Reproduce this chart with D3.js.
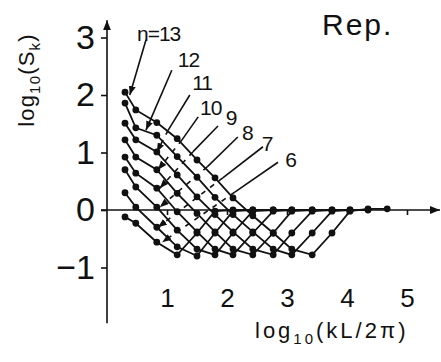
<!DOCTYPE html>
<html>
<head>
<meta charset="utf-8">
<script src="https://cdn.jsdelivr.net/npm/d3@7/dist/d3.min.js"></script>
<style>
  body { margin: 0; background: #fff; }
  text { font-family: "Liberation Sans", Arial, sans-serif; fill: #111; }
</style>
</head>
<body>
<div id="container"></div>
<script>
// k positions, log10(kL/2pi)
const kPos = [0.30, 0.48, 0.83, 1.17, 1.50, 1.80, 2.10, 2.43, 2.77, 3.08, 3.42, 3.75, 4.05, 4.35, 4.67];

// log10(S_k) for each system size n
const s6  = [-0.12, -0.23, -0.56, -0.78, -0.40, -0.02, 0.00, 0.00];
const s7  = [0.30, 0.05, -0.30, -0.64, -0.80, -0.40, -0.02, 0.00, 0.00];
const s8  = [0.70, 0.40, 0.05, -0.35, -0.68, -0.78, -0.40, -0.02, 0.00, 0.00];
const s9  = [0.92, 0.64, 0.38, -0.03, -0.38, -0.68, -0.78, -0.40, -0.02, 0.00, 0.00];
const s10 = [1.22, 0.92, 0.70, 0.29, -0.06, -0.38, -0.68, -0.78, -0.40, -0.02, 0.00, 0.00];
const s11 = [1.51, 1.22, 1.01, 0.61, 0.23, -0.08, -0.38, -0.68, -0.78, -0.40, -0.02, 0.00, 0.00];
const s12 = [1.86, 1.43, 1.30, 0.93, 0.57, 0.22, -0.08, -0.38, -0.68, -0.78, -0.40, -0.02, 0.00, 0.00];
const s13 = [2.05, 1.74, 1.52, 1.24, 0.87, 0.56, 0.21, -0.10, -0.40, -0.68, -0.78, -0.40, -0.02, 0.02, 0.02];
const seriesValues = [s6, s7, s8, s9, s10, s11, s12, s13];

const xTicks = [1, 2, 3, 4, 5];
const yTicks = [-1, 0, 1, 2, 3];

// curve labels (data units): text anchor, leader start, end of solid part, arrow tip
const labelText = ['n=13', '12', '11', '10', '9', '8', '7', '6'];
const labelAt    = [[0.50, 2.94], [1.18, 2.49], [1.42, 2.09], [1.55, 1.65], [1.98, 1.47], [2.25, 1.22], [2.58, 1.03], [2.97, 0.75]];
const leadStart  = [[0.65, 2.96], [1.08, 2.43], [1.38, 2.00], [1.52, 1.62], [1.85, 1.46], [2.18, 1.27], [2.60, 1.10], [2.85, 0.83]];
const leadBend   = [[0.38, 2.00], [0.65, 1.39], [1.02, 1.39], [1.25, 1.22], [1.43, 1.01], [1.67, 0.75], [1.93, 0.56], [2.13, 0.31]];
const leadTip    = [[0.38, 2.00], [0.65, 1.39], [0.83, 1.01], [0.85, 0.70], [0.88, 0.38], [0.88, 0.05], [0.85, -0.30], [0.92, -0.56]];

const W = 441, H = 362;
const svg = d3.select('#container').append('svg').attr('width', W).attr('height', H);

const x = d3.scaleLinear().domain([0, 5]).range([107, 407]);
const y = d3.scaleLinear().domain([-1, 3]).range([267.5, 37.5]);

const defs = svg.append('defs');
defs.append('marker').attr('id', 'axArrow')
    .attr('viewBox', '0 0 10 8').attr('refX', 10).attr('refY', 4)
    .attr('markerWidth', 10).attr('markerHeight', 8)
    .attr('markerUnits', 'userSpaceOnUse').attr('orient', 'auto')
    .append('path').attr('d', 'M0,0L10,4L0,8Z').attr('fill', '#111');
defs.append('marker').attr('id', 'tipArrow')
    .attr('viewBox', '0 0 9 7').attr('refX', 9).attr('refY', 3.5)
    .attr('markerWidth', 9).attr('markerHeight', 7)
    .attr('markerUnits', 'userSpaceOnUse').attr('orient', 'auto')
    .append('path').attr('d', 'M0,0L9,3.5L0,7Z').attr('fill', '#111');

// axis lines with arrows
svg.append('line')
    .attr('x1', x(0)).attr('x2', x(0)).attr('y1', y(-1.97)).attr('y2', y(3.3))
    .attr('stroke', '#111').attr('stroke-width', 1.6).attr('marker-end', 'url(#axArrow)');
svg.append('line')
    .attr('x1', x(-0.1)).attr('x2', x(5.55)).attr('y1', y(0)).attr('y2', y(0))
    .attr('stroke', '#111').attr('stroke-width', 1.6).attr('marker-end', 'url(#axArrow)');

svg.append('g')
    .attr('transform', `translate(${x(0)},0)`)
    .call(d3.axisLeft(y).tickValues(yTicks).tickSize(6).tickPadding(6)
        .tickFormat(d => d < 0 ? '\u2212' + Math.abs(d) : d))
    .call(g => g.select('.domain').remove())
    .call(g => g.selectAll('line').attr('stroke', '#111').attr('stroke-width', 1.6))
    .call(g => g.selectAll('text').attr('font-size', 34).attr('font-family', '"Liberation Sans", Arial, sans-serif'));

svg.append('g')
    .attr('transform', `translate(0,${y(0)})`)
    .call(d3.axisBottom(x).tickValues(xTicks).tickSize(5).tickPadding(74).tickFormat(d3.format('d')))
    .call(g => g.select('.domain').remove())
    .call(g => g.selectAll('line').attr('stroke', '#111').attr('stroke-width', 1.6))
    .call(g => g.selectAll('text').attr('font-size', 26).attr('font-family', '"Liberation Sans", Arial, sans-serif'));

// curves
const line = d3.line().x(d => x(d[0])).y(d => y(d[1]));
seriesValues.forEach(vals => {
    const pts = vals.map((v, i) => [kPos[i], v]);
    svg.append('path')
        .attr('d', line(pts))
        .attr('fill', 'none').attr('stroke', '#111').attr('stroke-width', 1.8);
    svg.selectAll(null).data(pts).enter().append('circle')
        .attr('cx', d => x(d[0])).attr('cy', d => y(d[1])).attr('r', 3.4)
        .attr('fill', '#111');
});

// leaders and labels
labelText.forEach((t, i) => {
    const s = leadStart[i], b = leadBend[i], e = leadTip[i];
    const solid = svg.append('line')
        .attr('x1', x(s[0])).attr('y1', y(s[1])).attr('x2', x(b[0])).attr('y2', y(b[1]))
        .attr('stroke', '#111').attr('stroke-width', 1.6);
    if (b[0] === e[0] && b[1] === e[1]) {
        solid.attr('marker-end', 'url(#tipArrow)');
    } else {
        svg.append('line')
            .attr('x1', x(b[0])).attr('y1', y(b[1])).attr('x2', x(e[0])).attr('y2', y(e[1]))
            .attr('stroke', '#111').attr('stroke-width', 1.6)
            .attr('stroke-dasharray', '5,6')
            .attr('marker-end', 'url(#tipArrow)');
    }
    svg.append('text')
        .attr('x', x(labelAt[i][0])).attr('y', y(labelAt[i][1]))
        .attr('font-size', 21).attr('letter-spacing', -1)
        .text(t);
});

// title
svg.append('text').attr('x', 322).attr('y', 35)
    .attr('font-size', 30).attr('letter-spacing', 2).text('Rep.');

// axis titles
const yTitle = svg.append('text')
    .attr('transform', 'translate(34,80) rotate(-90)')
    .attr('text-anchor', 'middle').attr('font-size', 22).attr('letter-spacing', 1.2);
yTitle.append('tspan').text('log');
yTitle.append('tspan').attr('font-size', 15).attr('dy', 6).text('10');
yTitle.append('tspan').attr('dy', -6).text('(S');
yTitle.append('tspan').attr('font-size', 15).attr('dy', 6).text('k');
yTitle.append('tspan').attr('dy', -6).text(')');

const xTitle = svg.append('text')
    .attr('x', 255).attr('y', 338)
    .attr('font-size', 22).attr('letter-spacing', 3);
xTitle.append('tspan').text('log');
xTitle.append('tspan').attr('font-size', 15).attr('dy', 6).text('10');
xTitle.append('tspan').attr('dy', -6).text('(kL/2\u03c0)');
</script>
</body>
</html>
